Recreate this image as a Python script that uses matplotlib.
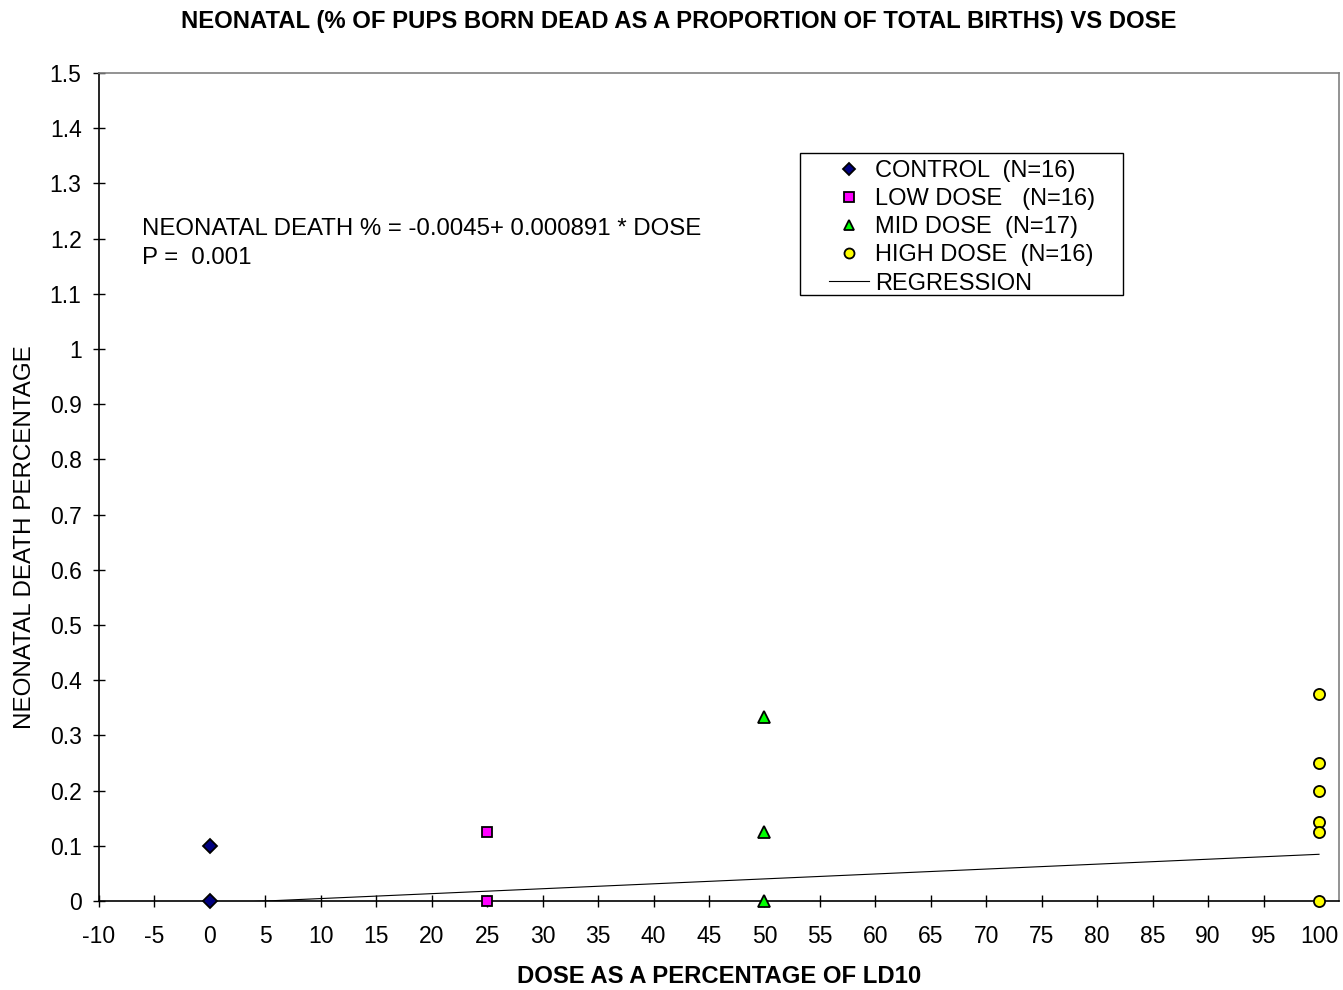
import numpy as np
import matplotlib.pyplot as plt
from matplotlib.patches import Rectangle
from matplotlib.ticker import FormatStrFormatter

plt.rcParams['font.family'] = ['Liberation Sans', 'DejaVu Sans']

# neonatal death fraction per litter, grouped by dose (% of LD10)
controlDose = [0, 0]
controlVals = [0.1, 0.0]
lowDose = [25, 25]
lowVals = [0.125, 0.0]
midDose = [50, 50, 50]
midVals = [0.333, 0.125, 0.0]
highDose = [100, 100, 100, 100, 100, 100]
highVals = [0.375, 0.25, 0.2, 0.143, 0.125, 0.0]

# fitted regression
intercept = -0.0045
slope = 0.000891
regX = np.array([0, 100])

W, H = 1343, 990
fig = plt.figure(figsize=(W / 100, H / 100), dpi=100)
ax = fig.add_axes([0.0737, 0.0899, 0.9233, 0.8364])

ax.plot(regX, intercept + slope * regX, color='black', lw=0.8, label='REGRESSION', zorder=2)
ax.plot(controlDose, controlVals, 'D', color='#000080', mec='black', mew=1.3, ms=7,
        ls='none', label='CONTROL  (N=16)', zorder=3, clip_on=False)
ax.plot(lowDose, lowVals, 's', color='#FF00FF', mec='black', mew=1.3, ms=7.5,
        ls='none', label='LOW DOSE   (N=16)', zorder=3, clip_on=False)
ax.plot(midDose, midVals, '^', color='#00FF00', mec='black', mew=1.3, ms=8.5,
        ls='none', label='MID DOSE  (N=17)', zorder=3, clip_on=False)
ax.plot(highDose, highVals, 'o', color='#FFFF00', mec='black', mew=1.3, ms=8,
        ls='none', label='HIGH DOSE  (N=16)', zorder=3, clip_on=False)

ax.set_xlim(-10, 101.8)
ax.set_ylim(0, 1.5)
ax.set_xticks(np.arange(-10, 101, 5))
ax.set_yticks(np.arange(0, 1.51, 0.1))
ax.yaxis.set_major_formatter(FormatStrFormatter('%g'))
ax.xaxis.set_major_formatter(FormatStrFormatter('%g'))
ax.tick_params(direction='inout', length=9, width=1, labelsize=16.5)
ax.tick_params(axis='x', pad=12.5)
ax.tick_params(axis='y', pad=8)

for s in ['left', 'bottom']:
    ax.spines[s].set_color('black')
    ax.spines[s].set_linewidth(1.2)
for s in ['top', 'right']:
    ax.spines[s].set_color('#808080')
    ax.spines[s].set_linewidth(1.2)

ax.text(-6.1, 1.2175, 'NEONATAL DEATH % = -0.0045+ 0.000891 * DOSE', fontsize=17.3, va='center')
ax.text(-6.1, 1.1645, 'P =  0.001', fontsize=17.3, va='center')

ax.set_xlabel('DOSE AS A PERCENTAGE OF LD10', fontsize=17.2, fontweight='bold')
ax.xaxis.set_label_coords(0.5, -0.077)
ax.set_ylabel('NEONATAL DEATH PERCENTAGE', fontsize=17.4)
ax.yaxis.set_label_coords(-0.051, 0.44)

fig.suptitle('NEONATAL (% OF PUPS BORN DEAD AS A PROPORTION OF TOTAL BIRTHS) VS DOSE',
             fontsize=17.2, fontweight='bold', x=0.505, y=0.99)

# legend box drawn separately so its padding can be wider than the row spacing
fig.patches.append(Rectangle((800 / W, 1 - 295 / H), 323 / W, 142 / H,
                             transform=fig.transFigure, facecolor='white',
                             edgecolor='black', lw=1, zorder=4))

handles, labels = ax.get_legend_handles_labels()
order = [1, 2, 3, 4, 0]
leg = fig.legend([handles[i] for i in order], [labels[i] for i in order],
                 loc='upper left', bbox_to_anchor=(829 / W, 1 - 160 / H), fontsize=17,
                 frameon=False, markerscale=0.9, handlelength=1.7, handletextpad=0.25,
                 labelspacing=0.26, borderpad=0, borderaxespad=0)
leg.set_zorder(5)

fig.savefig('out.png', dpi=100)
